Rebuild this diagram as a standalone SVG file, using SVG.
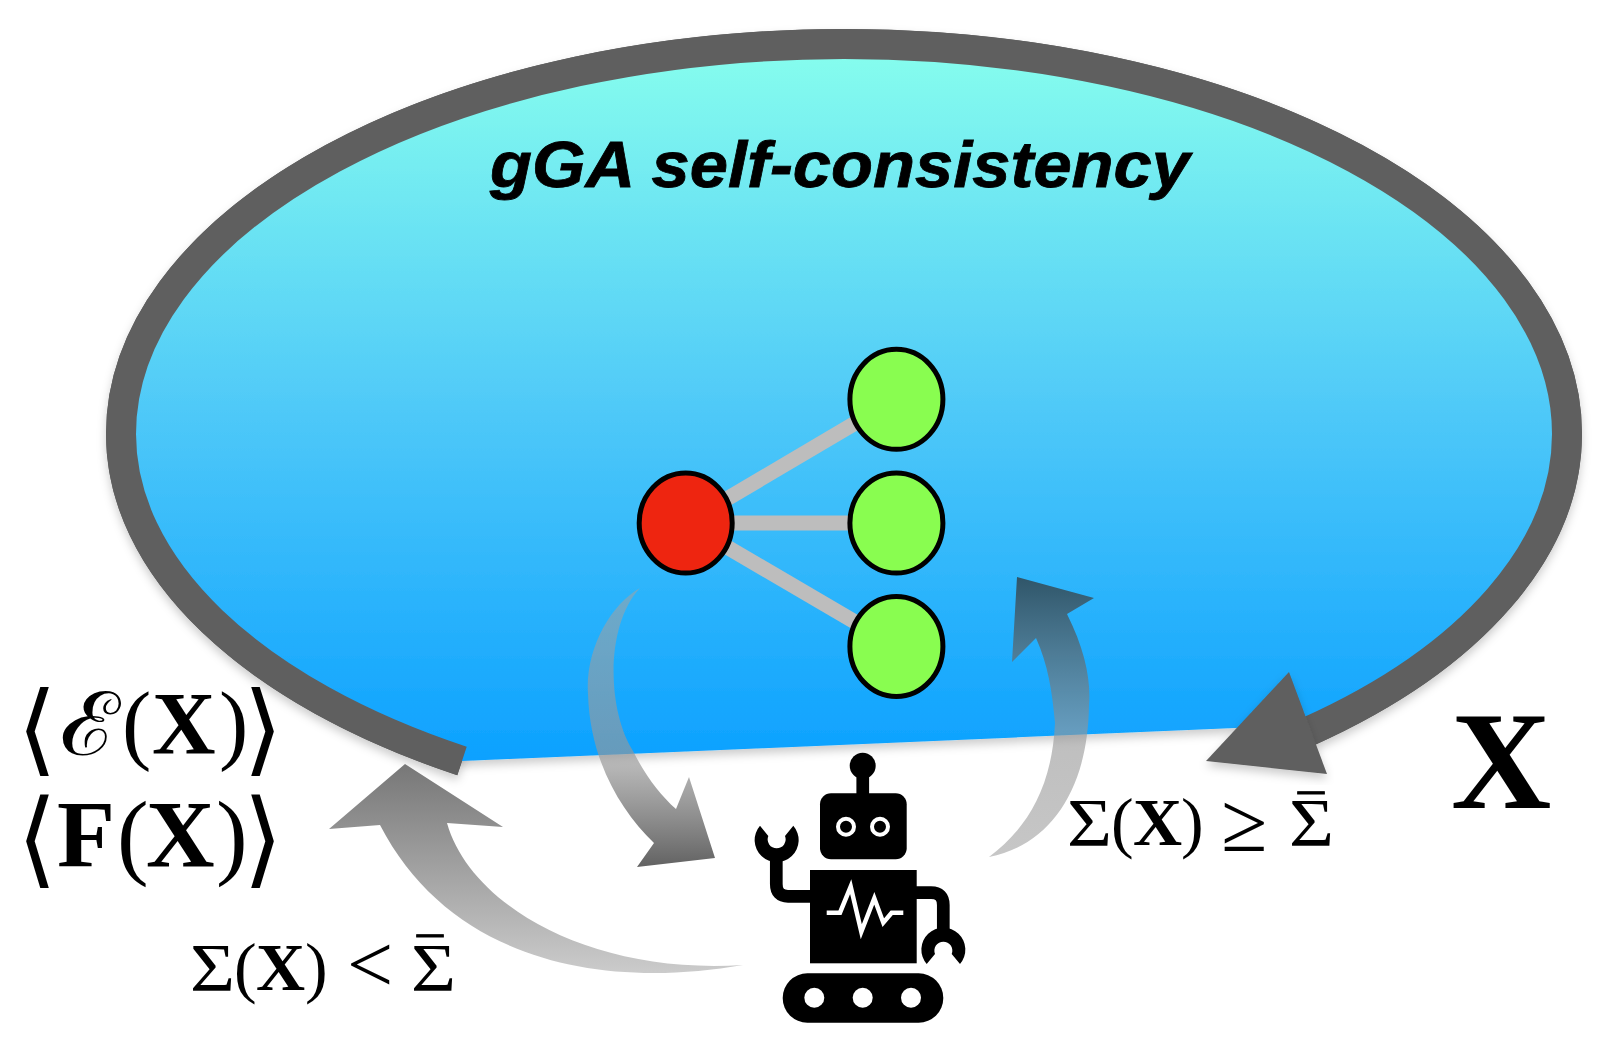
<svg xmlns="http://www.w3.org/2000/svg" width="1613" height="1048" viewBox="0 0 1613 1048">
<style>
.m{font-family:"Liberation Serif","DejaVu Serif",serif;fill:#000}
.b{font-weight:bold}
.a{font-family:"DejaVu Sans","Liberation Serif",sans-serif;fill:#000}
.n{stroke:#000;stroke-width:5}
.g{fill:#89fd50}
.e{stroke:#bdbdbd;stroke-width:15;fill:none}
.r{fill:#000}
.w{fill:#fff}
.arm{fill:none;stroke:#000;stroke-width:12.7}
.bar{stroke:#000;stroke-width:.8}
</style>
<defs>
<linearGradient id="sky" gradientUnits="userSpaceOnUse" x1="0" y1="59" x2="0" y2="760">
<stop offset="0" stop-color="#85fcee"/><stop offset=".5" stop-color="#4fc9f8"/><stop offset="1" stop-color="#0ca1ff"/>
</linearGradient>
<linearGradient id="ga" gradientUnits="userSpaceOnUse" x1="0" y1="764" x2="0" y2="975">
<stop offset="0" stop-color="#777"/><stop offset="1" stop-color="#ccc"/>
</linearGradient>
<linearGradient id="gb" gradientUnits="userSpaceOnUse" x1="0" y1="588" x2="0" y2="865">
<stop offset="0" stop-color="#a3a3a3" stop-opacity=".55"/><stop offset=".62" stop-color="#979797" stop-opacity=".65"/><stop offset="1" stop-color="#303030" stop-opacity=".75"/>
</linearGradient>
<linearGradient id="gc" gradientUnits="userSpaceOnUse" x1="0" y1="577" x2="0" y2="857">
<stop offset="0" stop-color="#303030" stop-opacity=".72"/><stop offset=".55" stop-color="#979797" stop-opacity=".62"/><stop offset="1" stop-color="#a8a8a8" stop-opacity=".65"/>
</linearGradient>
<filter id="sh" x="-5%" y="-5%" width="110%" height="115%">
<feDropShadow dx="0" dy="5" stdDeviation="5" flood-color="#000" flood-opacity=".2"/>
</filter>
<path id="ring" d="M1308 731.6A723 388 0 0 0 1567 434A723 390 0 0 0 844 44A723 390 0 0 0 121 434A723 385 0 0 0 462 761" fill="none" stroke="#5f5f5f" stroke-width="30"/>
</defs>
<rect width="1613" height="1048" fill="#fff"/>
<use href="#ring" filter="url(#sh)"/>
<g id="loop-region" filter="url(#sh)">
<path d="M462 761A723 385 0 0 1 121 434A723 390 0 0 1 844 44A723 390 0 0 1 1567 434A723 388 0 0 1 1308 725Z" fill="url(#sky)"/>
</g>
<g id="connectors">
<use id="loop-arrow" href="#ring"/>
<polygon id="loop-arrowhead" filter="url(#sh)" points="1206,761 1289,672 1327,774" fill="#5f5f5f"/>
<path id="arrow-robot-out" d="M405 764L503 827L447 823C470 905 590 975 743 965C600 990 450 960 380 825L329 829Z" fill="url(#ga)"/>
<path id="arrow-to-robot" d="M640 588C605 625 607 710 633 751C645 775 660 795 676 809L689 777L715 858L637 867L654 843C620 810 590 760 588 694C585 650 610 605 640 588Z" fill="url(#gb)"/>
<path id="arrow-from-robot" d="M989 857C1025 830 1052 790 1055 723C1052 690 1048 665 1036 638L1012 662L1017 577L1094 598L1067 614C1085 650 1091 680 1089 705C1088 790 1050 845 989 857Z" fill="url(#gc)"/>
<line class="e" x1="686" y1="523" x2="896" y2="399"/>
<line class="e" x1="686" y1="523" x2="896" y2="523"/>
<line class="e" x1="686" y1="523" x2="896" y2="646"/>
</g>
<g id="node-red"><ellipse class="n" cx="685.7" cy="523" rx="46.5" ry="50" fill="#ee2510"/></g>
<g id="node-green-1"><ellipse class="n g" cx="896.4" cy="399.3" rx="46.5" ry="50"/></g>
<g id="node-green-2"><ellipse class="n g" cx="896.4" cy="523" rx="46.5" ry="50"/></g>
<g id="node-green-3"><ellipse class="n g" cx="896.4" cy="646.4" rx="46.5" ry="50"/></g>
<g id="robot">
<circle class="r" cx="862.7" cy="765.7" r="13"/>
<rect class="r" x="856.4" y="770" width="12.7" height="30"/>
<rect class="r" x="820" y="793.3" width="86.7" height="66" rx="11"/>
<circle cx="846" cy="826.7" r="8" fill="#000" stroke="#fff" stroke-width="4"/>
<circle cx="880" cy="826.7" r="8" fill="#000" stroke="#fff" stroke-width="4"/>
<rect class="r" x="810" y="870" width="106.7" height="93.3"/>
<polyline points="826.7,912.7 840,912.7 850.7,886.7 861.3,931.7 874.3,898.3 883.3,922.7 891.7,912.7 903.3,912.7" fill="none" stroke="#fff" stroke-width="4.5"/>
<path class="arm" d="M815 896.3H788Q776.3 896.3 776.3 884V850"/>
<path class="arm" d="M912 892.7H931Q943.3 892.7 943.3 905V935"/>
<path class="r" d="M760 825.7A22 22 0 1 0 793.3 825.7L785 836A9 9 0 1 1 768.3 836Z"/>
<path class="r" d="M926.7 964A22 22 0 1 1 960 964L951.7 954A9 9 0 1 0 935 954Z"/>
<rect class="r" x="782.7" y="973.3" width="160.6" height="49.4" rx="24.7"/>
<circle class="w" cx="814.3" cy="997.7" r="10"/>
<circle class="w" cx="862.7" cy="997.7" r="10"/>
<circle class="w" cx="911" cy="997.7" r="10"/>
</g>
<g id="title"><text x="490" y="187" font-family="'Liberation Sans',Arial,sans-serif" font-size="65" font-weight="bold" font-style="italic" stroke="#000" stroke-width=".8" textLength="700" lengthAdjust="spacingAndGlyphs">gGA self-consistency</text></g>
<g id="label-energy"><text class="m" font-size="88"><tspan class="a" x="17" y="763" font-size="100" textLength="40" lengthAdjust="spacingAndGlyphs">⟨</tspan><tspan x="60" y="755" font-family="'DejaVu Serif','Noto Sans',serif" font-style="italic" textLength="60" lengthAdjust="spacingAndGlyphs">ℰ</tspan><tspan x="122" y="753">(</tspan><tspan class="b" x="152" y="753">X</tspan><tspan x="219" y="753">)</tspan><tspan class="a" x="243" y="763" font-size="100" textLength="40" lengthAdjust="spacingAndGlyphs">⟩</tspan></text></g>
<g id="label-force"><text class="m" font-size="95"><tspan class="a" x="17" y="874" font-size="105" textLength="40" lengthAdjust="spacingAndGlyphs">⟨</tspan><tspan class="b" x="57" y="867">F</tspan><tspan x="117" y="867">(</tspan><tspan class="b" x="146" y="867">X</tspan><tspan x="216" y="867">)</tspan><tspan class="a" x="243" y="874" font-size="105" textLength="40" lengthAdjust="spacingAndGlyphs">⟩</tspan></text></g>
<g id="label-lt"><text class="m" font-size="68"><tspan x="190" y="990" textLength="45" lengthAdjust="spacingAndGlyphs">Σ</tspan><tspan x="234" y="990">(</tspan><tspan class="b" x="256" y="990">X</tspan><tspan x="305" y="990">)</tspan><tspan x="347" y="992" font-size="82">&lt;</tspan><tspan x="411" y="990" textLength="45" lengthAdjust="spacingAndGlyphs">Σ</tspan><tspan class="bar" x="417" y="975" font-size="52">¯</tspan></text></g>
<g id="label-ge"><text class="m" font-size="68"><tspan x="1067" y="845" textLength="45" lengthAdjust="spacingAndGlyphs">Σ</tspan><tspan x="1111" y="845">(</tspan><tspan class="b" x="1133" y="845">X</tspan><tspan x="1181" y="845">)</tspan><tspan x="1221" y="851" font-size="84">≥</tspan><tspan x="1289" y="845" textLength="45" lengthAdjust="spacingAndGlyphs">Σ</tspan><tspan class="bar" x="1298" y="832" font-size="52">¯</tspan></text></g>
<g id="label-x"><text class="m b" x="1451" y="808" font-size="139">X</text></g>
</svg>
